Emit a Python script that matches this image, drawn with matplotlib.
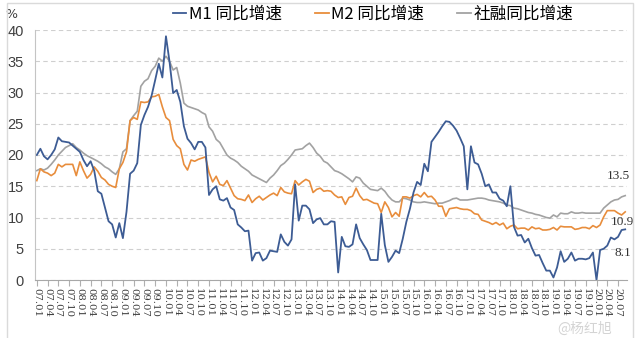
import matplotlib
matplotlib.use("Agg")
import matplotlib.pyplot as plt
from matplotlib.patches import Rectangle
from matplotlib.lines import Line2D

# 同比增速 (%), 月度, 2007.01 - 2020.09
m1 = [
    20.0, 21.0, 19.8, 19.3, 20.0, 20.9, 22.8, 22.2, 22.1, 22.0, 21.5, 21.0,   # 2007
    20.5, 19.2, 18.2, 19.0, 17.5, 14.2, 13.8, 11.6, 9.4, 8.9, 6.8, 9.1,       # 2008
    6.7, 10.9, 17.0, 17.5, 18.7, 24.8, 26.4, 27.7, 29.5, 32.0, 34.6, 32.4,    # 2009
    39.0, 34.9, 29.9, 30.4, 28.5, 24.6, 22.6, 21.9, 20.9, 22.1, 22.1, 21.2,   # 2010
    13.6, 14.5, 15.0, 12.9, 12.7, 13.1, 11.6, 11.2, 8.9, 8.4, 7.8, 7.9,       # 2011
    3.1, 4.3, 4.4, 3.1, 3.5, 4.7, 4.6, 4.5, 7.3, 6.1, 5.5, 6.5,              # 2012
    15.3, 9.5, 11.9, 11.9, 11.3, 9.1, 9.7, 9.9, 8.9, 8.9, 9.4, 9.3,          # 2013
    1.2, 6.9, 5.4, 5.3, 5.7, 8.9, 6.7, 5.7, 4.8, 3.2, 3.2, 3.2,              # 2014
    10.6, 5.6, 2.9, 3.7, 4.7, 4.3, 6.6, 9.3, 11.4, 14.0, 15.7, 15.2,         # 2015
    18.6, 17.4, 22.1, 22.9, 23.7, 24.6, 25.4, 25.3, 24.7, 23.9, 22.7, 21.4,  # 2016
    14.5, 21.4, 18.8, 18.5, 17.0, 15.0, 15.3, 14.0, 14.0, 13.0, 12.7, 11.8,  # 2017
    15.0, 8.5, 7.1, 7.2, 6.0, 6.6, 5.1, 3.9, 4.0, 2.7, 1.5, 1.5,             # 2018
    0.4, 2.0, 4.6, 2.9, 3.4, 4.4, 3.1, 3.4, 3.4, 3.3, 3.5, 4.4,              # 2019
    0.0, 4.8, 5.0, 5.5, 6.8, 6.5, 6.9, 8.0, 8.1,                             # 2020
]
m2 = [
    15.9, 17.8, 17.3, 17.1, 16.7, 17.1, 18.5, 18.1, 18.5, 18.5, 18.5, 16.7,
    18.9, 17.5, 16.3, 16.9, 18.1, 17.4, 16.4, 16.0, 15.3, 15.0, 14.8, 17.8,
    18.8, 20.5, 25.5, 26.0, 25.7, 28.5, 28.4, 28.5, 29.3, 29.4, 29.7, 27.7,
    26.0, 25.5, 22.5, 21.5, 21.0, 18.5, 17.6, 19.2, 19.0, 19.3, 19.5, 19.7,
    17.2, 15.7, 16.6, 15.3, 15.1, 15.9, 14.7, 13.5, 13.0, 12.9, 12.7, 13.6,
    12.4, 13.0, 13.4, 12.8, 13.2, 13.6, 13.9, 13.5, 14.8, 14.1, 13.9, 13.8,
    15.9, 15.2, 15.7, 16.1, 15.8, 14.0, 14.5, 14.7, 14.2, 14.3, 14.2, 13.6,
    13.2, 13.3, 12.1, 13.2, 13.4, 14.7, 13.5, 12.8, 12.9, 12.6, 12.3, 12.2,
    10.8, 12.5, 11.6, 10.1, 10.8, 10.2, 13.3, 13.3, 13.1, 13.5, 13.7, 13.3,
    14.0, 13.3, 13.4, 12.8, 11.8, 11.8, 10.2, 11.4, 11.5, 11.6, 11.4, 11.3,
    11.3, 11.1, 10.6, 10.5, 9.6, 9.4, 9.2, 8.9, 9.2, 8.8, 9.1, 8.2,
    8.6, 8.8, 8.2, 8.3, 8.3, 8.0, 8.5, 8.2, 8.3, 8.0, 8.0, 8.1,
    8.4, 8.0, 8.6, 8.5, 8.5, 8.5, 8.1, 8.2, 8.4, 8.4, 8.2, 8.7,
    8.4, 8.8, 10.1, 11.1, 11.1, 11.1, 10.7, 10.4, 10.9,
]
tsf = [
    17.5, 17.8, 17.6, 17.9, 18.5, 19.2, 20.0, 20.6, 21.2, 21.5, 21.8, 21.2,
    20.8, 20.3, 19.9, 19.6, 19.3, 19.0, 18.6, 18.1, 17.8, 17.3, 16.9, 17.8,
    20.5, 21.0, 25.5, 26.3, 27.0, 31.0, 31.8, 32.2, 33.5, 34.2, 35.5, 35.0,
    35.8, 35.0, 33.6, 34.0, 31.5, 28.3, 27.8, 27.6, 27.4, 27.2, 26.8, 26.5,
    24.5, 23.8, 22.5, 22.0, 21.0, 20.0, 19.5, 19.2, 18.8, 18.2, 17.8, 17.4,
    16.8, 16.5, 16.2, 15.9, 15.6, 16.3, 16.8, 17.5, 18.3, 18.7, 19.3, 20.0,
    20.8, 20.9, 21.0, 21.5, 21.9, 21.2, 20.3, 19.8, 19.0, 18.7, 18.1, 17.5,
    17.3, 17.0, 16.6, 16.2, 15.7, 16.5, 16.3, 15.5, 15.0, 14.5, 14.4, 14.3,
    14.7, 14.2, 13.4, 12.8, 12.5, 12.5, 13.1, 13.0, 12.8, 12.5, 12.4, 12.4,
    12.5, 12.4, 12.3, 12.2, 12.3, 12.3, 12.5, 12.7, 13.0, 13.1, 12.8, 12.8,
    12.8, 12.9, 13.0, 13.1, 13.1, 13.0, 12.8, 12.7, 12.6, 12.5, 12.3, 12.0,
    11.9, 11.5, 11.4, 11.2, 11.0, 10.8, 10.7, 10.5, 10.4, 10.2, 10.0, 9.9,
    10.4, 10.1, 10.7, 10.6, 10.6, 10.9, 10.7, 10.7, 10.8, 10.7, 10.7, 10.7,
    10.7, 10.7, 11.5, 12.0, 12.5, 12.8, 12.9, 13.3, 13.5,
]

months = [f"{y % 100:02d}.{m:02d}" for y in range(2007, 2021) for m in range(1, 13)][:len(m1)]
x = list(range(len(months)))

c_m1, c_m2, c_tsf = "#3d5c94", "#e88d3c", "#a2a2a2"
cjk = ["Noto Sans CJK SC", "DejaVu Sans"]

fig = plt.figure(figsize=(6.4, 3.38), dpi=100)
ax = fig.add_axes([35 / 640, 58 / 338, 592 / 640, 250 / 338])

ax.plot(x, tsf, color=c_tsf, lw=1.2)
ax.plot(x, m2, color=c_m2, lw=1.2)
ax.plot(x, m1, color=c_m1, lw=1.3)

ax.set_xlim(-0.5, len(x) - 0.5)
ax.set_ylim(0, 40)
ax.set_yticks(range(0, 41, 5))
ax.yaxis.grid(True, color="#cfcfcf", lw=0.8, ls=(0, (4, 3)))
ax.set_axisbelow(True)

for s in ("top", "right"):
    ax.spines[s].set_visible(False)
ax.spines["left"].set_color("#c4c4c4")
ax.spines["bottom"].set_color("#a8a8a8")

ax.tick_params(axis="y", length=0, pad=8, labelsize=10.5, labelcolor="#404040")
for t in ax.get_yticklabels():
    t.set_family("Liberation Sans")

tick_pos = x[::3]
ax.set_xticks(tick_pos)
ax.set_xticklabels([months[i] for i in tick_pos], rotation=-90,
                   family="DejaVu Serif", fontsize=7.3, color="#404040")
ax.tick_params(axis="x", length=4, width=0.8, color="#b0b0b0", pad=1.5)

ax.text(-0.04, 1.035, "%", transform=ax.transAxes, fontsize=9,
        color="#404040", ha="center", va="bottom")

# 期末数值标注
for series, dx, dy in ((tsf, -5, 14), (m2, -2, -7), (m1, -1.5, -17)):
    ax.annotate(f"{series[-1]:.1f}", (x[-1], series[-1]), xytext=(dx, dy),
                textcoords="offset points", ha="center", va="center",
                family="Liberation Serif", fontsize=9.5, color="#333333")

handles = [Line2D([], [], color=c, lw=1.3) for c in (c_m1, c_m2, c_tsf)]
fig.legend(handles, ["M1 同比增速", "M2 同比增速", "社融同比增速"],
           loc="upper left", bbox_to_anchor=(173 / 640, 1 - 6 / 338), ncol=3,
           frameon=False, prop={"family": cjk, "size": 12},
           handlelength=0.8, handletextpad=0.15, columnspacing=2.0,
           borderpad=0, borderaxespad=0)

fig.patches.append(Rectangle((7 / 640, -0.01), 626 / 640, 1 - 3 / 338 + 0.01,
                             transform=fig.transFigure, fill=False,
                             ec="#dadada", lw=1.0))

fig.text(585 / 640, 1 - 329 / 338, "@杨红旭", family=cjk, fontsize=10,
         color="#d4d4d4", ha="center", va="center")

fig.savefig("out.png", dpi=100)
